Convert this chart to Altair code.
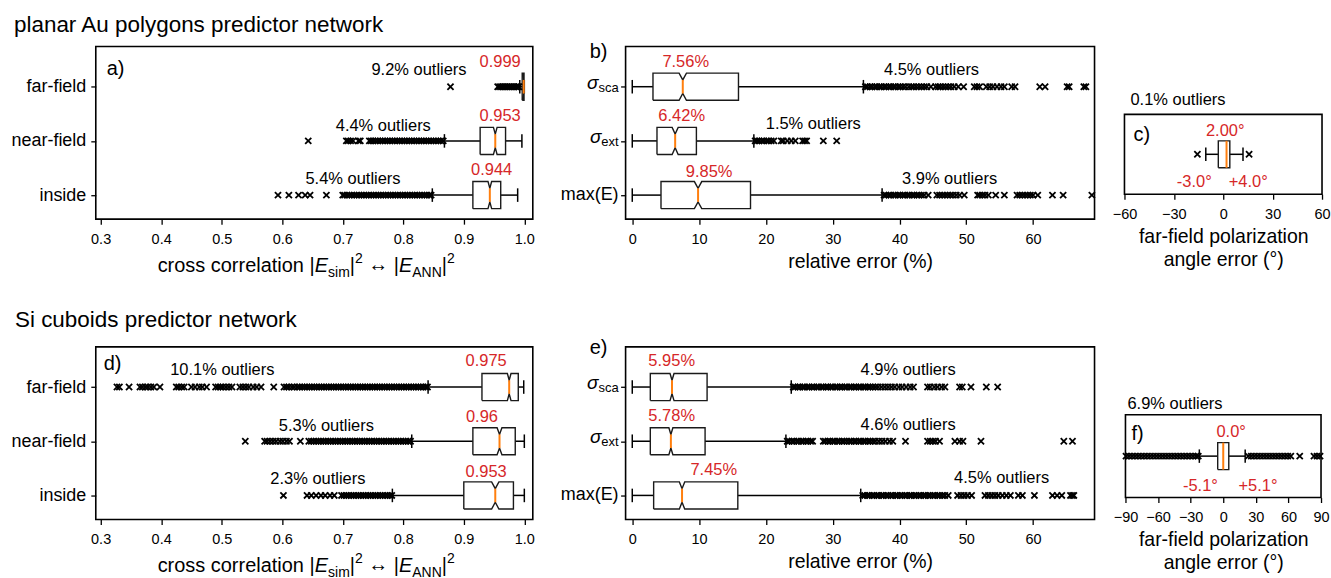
import altair as alt
import pandas as pd

FONT = "Liberation Sans"
RED = "#d62728"
ORANGE = "#ff7f0e"
XSHAPE = "M-1,-1L1,1M-1,1L1,-1"

# ================= panel a : planar Au polygons, cross correlation =================
a_names = ["far-field", "near-field", "inside"]
a_q1 = [0.9965, 0.927, 0.915]
a_med = [0.999, 0.952, 0.943]
a_q3 = [0.9995, 0.969, 0.961]
a_lo = [0.9925, 0.868, 0.848]
a_hi = [1.0, 0.996, 0.989]
a_notch = [0.0003, 0.003, 0.003]
a_out_far = [0.878, 0.956, 0.959, 0.962, 0.965, 0.968, 0.971, 0.974, 0.977, 0.980, 0.983, 0.986, 0.989, 0.991]
a_out_near = [0.643, 0.706, 0.709, 0.713, 0.717, 0.726, 0.729, 0.744, 0.747, 0.750, 0.754, 0.758, 0.762,
              0.766, 0.770, 0.774, 0.778, 0.782, 0.786, 0.790, 0.794, 0.798, 0.802, 0.806, 0.810, 0.814,
              0.818, 0.822, 0.826, 0.830, 0.834, 0.838, 0.842, 0.846, 0.850, 0.854, 0.858, 0.862, 0.866]
a_out_in = [0.593, 0.611, 0.627, 0.638, 0.646, 0.673, 0.700, 0.703, 0.707, 0.711, 0.715, 0.719, 0.723,
            0.727, 0.731, 0.735, 0.739, 0.743, 0.747, 0.751, 0.755, 0.759, 0.763, 0.767, 0.771, 0.775,
            0.779, 0.783, 0.787, 0.791, 0.795, 0.799, 0.803, 0.807, 0.811, 0.815, 0.819, 0.823, 0.827,
            0.831, 0.835, 0.839, 0.843, 0.846]
a_med_txt = ["0.999", "0.953", "0.944"]
a_med_tx = [0.960, 0.960, 0.946]
a_med_ty = [3.46, 2.46, 1.46]
a_out_txt = ["9.2% outliers", "4.4% outliers", "5.4% outliers"]
a_out_tx = [0.826, 0.767, 0.717]
a_out_ty = [3.30, 2.28, 1.29]

# ================= panel b : planar Au polygons, relative error =================
b_names = ["sca", "ext", "max(E)"]
b_q1 = [3.1, 3.7, 4.3]
b_med = [7.56, 6.42, 9.85]
b_q3 = [15.9, 9.6, 17.7]
b_lo = [0.0, 0.0, 0.0]
b_hi = [34.6, 18.2, 37.4]
b_notch = [0.55, 0.45, 0.55]
b_out_sca = [34.9, 35.2, 35.6, 35.9, 36.3, 36.6, 37.0, 37.3, 37.7, 38.0, 38.4, 38.7, 39.1, 39.4, 39.8,
             40.1, 40.5, 40.9, 41.4, 41.8, 42.1, 42.5, 42.9, 43.3, 43.7, 44.1, 44.7, 45.4, 45.8, 46.1,
             46.5, 46.9, 47.3, 47.7, 48.2, 48.8, 49.6, 51.2, 51.6, 52.0, 53.0, 53.5, 54.0, 54.6, 55.2,
             55.7, 56.8, 57.3, 61.0, 61.8, 65.1, 65.4, 67.6, 67.9]
b_out_ext = [18.4, 18.7, 19.0, 19.4, 19.7, 20.1, 20.4, 20.8, 21.2, 22.3, 22.6, 23.2, 23.8, 24.4, 25.5,
             25.8, 26.1, 28.6, 30.6]
b_out_max = [37.7, 38.0, 38.4, 38.7, 39.1, 39.4, 39.8, 40.1, 40.5, 40.8, 41.2, 41.5, 41.9, 42.2, 42.6,
             42.9, 43.3, 43.7, 44.3, 45.6, 46.0, 46.4, 46.8, 47.2, 47.6, 48.0, 48.5, 49.0, 49.7, 51.7,
             52.0, 52.4, 52.8, 53.3, 54.4, 55.7, 57.6, 58.0, 58.4, 58.8, 59.2, 59.6, 60.0, 60.7, 62.9,
             64.5, 68.8]
b_med_txt = ["7.56%", "6.42%", "9.85%"]
b_med_tx = [8.0, 7.4, 11.5]
b_med_ty = [3.46, 2.46, 1.42]
b_out_txt = ["4.5% outliers", "1.5% outliers", "3.9% outliers"]
b_out_tx = [44.8, 27.1, 47.5]
b_out_ty = [3.31, 2.31, 1.29]

# ================= panel c : planar Au polygons, polarization angle =================
c_q1 = [-3.0]
c_med = [2.0]
c_q3 = [4.0]
c_lo = [-10.6]
c_hi = [12.0]
c_out = [-15.7, 15.7]
c_txt = ["2.00°", "-3.0°", "+4.0°"]
c_tx = [1.2, -17.6, 15.2]
c_ty = [1.43, 0.48, 0.48]

# ================= panel d : Si cuboids, cross correlation =================
d_names = ["far-field", "near-field", "inside"]
d_q1 = [0.930, 0.915, 0.900]
d_med = [0.975, 0.959, 0.952]
d_q3 = [0.990, 0.985, 0.982]
d_lo = [0.841, 0.814, 0.782]
d_hi = [0.999, 1.0, 1.0]
d_notch = [0.003, 0.004, 0.006]
d_out_far = [0.327, 0.331, 0.347, 0.365, 0.369, 0.374, 0.378, 0.383, 0.388, 0.398, 0.425, 0.429, 0.434,
             0.438, 0.450, 0.456, 0.463, 0.468, 0.475, 0.490, 0.494, 0.498, 0.502, 0.507, 0.512, 0.517,
             0.530, 0.535, 0.540, 0.545, 0.552, 0.558, 0.565, 0.586, 0.603, 0.607, 0.611, 0.616, 0.620,
             0.625, 0.629, 0.633, 0.637, 0.641, 0.645, 0.649, 0.653, 0.657, 0.661, 0.665, 0.669, 0.673,
             0.677, 0.681, 0.685, 0.689, 0.693, 0.697, 0.701, 0.705, 0.709, 0.713, 0.717, 0.721, 0.725,
             0.729, 0.733, 0.737, 0.741, 0.745, 0.749, 0.753, 0.757, 0.761, 0.765, 0.769, 0.773, 0.777,
             0.781, 0.785, 0.789, 0.793, 0.797, 0.801, 0.805, 0.809, 0.813, 0.817, 0.821, 0.825, 0.829,
             0.833, 0.837, 0.840]
d_out_near = [0.539, 0.571, 0.575, 0.580, 0.585, 0.590, 0.596, 0.601, 0.607, 0.612, 0.630, 0.644, 0.648,
              0.652, 0.656, 0.660, 0.664, 0.668, 0.672, 0.676, 0.680, 0.684, 0.688, 0.692, 0.696, 0.700,
              0.704, 0.708, 0.712, 0.716, 0.720, 0.724, 0.728, 0.732, 0.736, 0.740, 0.744, 0.748, 0.752,
              0.756, 0.760, 0.764, 0.768, 0.772, 0.776, 0.780, 0.784, 0.788, 0.792, 0.796, 0.800, 0.804,
              0.808, 0.812]
d_out_in = [0.602, 0.641, 0.648, 0.656, 0.664, 0.671, 0.679, 0.686, 0.698, 0.702, 0.706, 0.710, 0.714,
            0.718, 0.722, 0.726, 0.730, 0.734, 0.738, 0.742, 0.746, 0.750, 0.754, 0.758, 0.762, 0.766,
            0.770, 0.774, 0.778, 0.781]
d_med_txt = ["0.975", "0.96", "0.953"]
d_med_tx = [0.937, 0.930, 0.937]
d_med_ty = [3.48, 2.44, 1.43]
d_out_txt = ["10.1% outliers", "5.3% outliers", "2.3% outliers"]
d_out_tx = [0.501, 0.673, 0.659]
d_out_ty = [3.31, 2.28, 1.30]

# ================= panel e : Si cuboids, relative error =================
e_names = ["sca", "ext", "max(E)"]
e_q1 = [2.7, 2.7, 3.2]
e_med = [5.95, 5.78, 7.45]
e_q3 = [11.2, 10.9, 15.8]
e_lo = [0.0, 0.0, 0.0]
e_hi = [23.8, 23.0, 34.2]
e_notch = [0.3, 0.3, 0.4]
e_out_sca = [24.1, 24.4, 24.8, 25.1, 25.5, 25.8, 26.2, 26.5, 26.9, 27.2, 27.6, 27.9, 28.3, 28.6, 29.0,
             29.3, 29.7, 30.0, 30.4, 30.7, 31.1, 31.4, 31.8, 32.1, 32.5, 32.8, 33.2, 33.5, 33.9, 34.2,
             34.6, 34.9, 35.3, 35.6, 36.0, 36.4, 36.8, 37.3, 37.8, 38.3, 38.8, 39.3, 39.9, 40.4, 41.0,
             41.6, 42.1, 44.2, 44.6, 45.2, 45.7, 46.3, 46.8, 49.0, 49.4, 50.7, 53.0, 54.7]
e_out_ext = [23.2, 23.5, 23.9, 24.2, 24.6, 24.9, 25.3, 25.6, 26.0, 26.3, 26.7, 27.0, 28.6, 28.9, 29.3,
             29.6, 30.0, 30.3, 30.7, 31.0, 31.4, 31.7, 32.1, 32.5, 32.8, 33.2, 33.5, 33.9, 34.2, 34.6,
             34.9, 35.3, 35.6, 36.0, 36.4, 36.9, 37.4, 37.9, 38.5, 39.0, 40.9, 44.2, 44.6, 45.0, 45.4,
             46.0, 48.3, 49.0, 49.5, 52.2, 64.6, 65.9]
e_out_max = [34.5, 34.8, 35.2, 35.5, 35.9, 36.2, 36.6, 36.9, 37.3, 37.6, 38.0, 38.3, 38.7, 39.0, 39.4,
             39.7, 40.1, 40.4, 40.8, 41.1, 41.5, 41.8, 42.2, 42.5, 42.9, 43.2, 43.6, 43.9, 44.3, 44.6,
             45.0, 45.3, 45.7, 46.0, 46.4, 46.8, 47.3, 48.7, 49.2, 49.7, 50.2, 50.8, 52.8, 53.3, 53.8,
             54.3, 54.8, 55.4, 56.0, 56.6, 57.8, 58.4, 60.2, 62.9, 63.6, 64.3, 65.6, 65.9, 66.1]
e_med_txt = ["5.95%", "5.78%", "7.45%"]
e_med_tx = [5.9, 5.9, 12.2]
e_med_ty = [3.48, 2.46, 1.46]
e_out_txt = ["4.9% outliers", "4.6% outliers", "4.5% outliers"]
e_out_tx = [41.3, 41.3, 55.3]
e_out_ty = [3.31, 2.29, 1.33]

# ================= panel f : Si cuboids, polarization angle =================
f_q1 = [-5.1]
f_med = [0.0]
f_q3 = [5.1]
f_lo = [-22.0]
f_hi = [20.2]
f_out = [-89.5, -86.7, -83.9, -81.1, -78.3, -75.5, -72.7, -69.9, -67.1, -64.3, -61.5, -58.7, -55.9,
         -53.1, -50.3, -47.5, -44.7, -41.9, -39.1, -36.3, -33.5, -30.7, -27.9, -25.1, -23.0,
         23.0, 25.8, 28.6, 31.4, 34.2, 37.0, 39.8, 42.6, 45.4, 48.2, 51.0, 53.8, 56.6, 59.4, 62.2,
         70.4, 83.5, 86.3, 89.1]
f_txt = ["0.0°", "-5.1°", "+5.1°"]
f_tx = [7.3, -21.0, 32.0]
f_ty = [1.44, 0.44, 0.44]

# Liberation Sans (Arial-metric) advance widths, used to set the math-title pieces side by side
WID = {' ': .278, 'a': .556, 'c': .5, 'e': .556, 'i': .222, 'l': .222, 'm': .833, 'n': .556, 'o': .556,
       'r': .333, 's': .5, 't': .278, 'x': .5, 'A': .667, 'E': .667, 'N': .722, '|': .26, '↔': 1.0,
       '2': .556}

ONE = pd.DataFrame({"z": [0]})


def ptext(txt, px, py, size, color="black", align="left", baseline="middle", style="normal"):
    return alt.Chart(ONE).mark_text(font=FONT, fontSize=size, color=color, align=align,
                                    baseline=baseline, fontStyle=style).encode(
        x=alt.value(px), y=alt.value(py), text=alt.value(txt))


def panel(names, q1, med, q3, lo, hi, notch, outs, xdom, ydom, xvals, xfmt, W, H, xtitle,
          ymode, notched, ann_red, ann_blk, extra):
    xs = alt.Scale(domain=xdom, nice=False, zero=False)
    ys = alt.Scale(domain=ydom, nice=False, zero=False)
    n = len(q1)
    pos = [n - i for i in range(n)]
    xaxis = alt.Axis(values=xvals, format=xfmt, labelFlush=False, labelOverlap=False,
                     labelFontSize=14.5, labelPadding=8, tickSize=5, titleFontSize=19.5,
                     titlePadding=7, titleLineHeight=23, title=xtitle, grid=False)
    if ymode == "names":
        expr = " : ".join([f"datum.value == {p} ? '{nm}'" for p, nm in zip(pos, names)]) + " : ''"
        yaxis = alt.Axis(values=pos, labelExpr=expr, labelFontSize=18, labelPadding=5,
                         tickSize=5, title=None, grid=False)
    elif ymode == "ticks":
        yaxis = alt.Axis(values=pos, labels=False, tickSize=5, title=None, grid=False)
    else:
        yaxis = None

    def X(f):
        return alt.X(f"{f}:Q", scale=xs, axis=xaxis)

    def Y(f):
        return alt.Y(f"{f}:Q", scale=ys, axis=yaxis)

    w, c = 0.25, 0.125
    outline, stats, pts = [], [], []
    for i, r in enumerate(pos):
        if notched:
            nl, nh = med[i] - notch[i], med[i] + notch[i]
            bx = [q1[i], nl, med[i], nh, q3[i], q3[i], nh, med[i], nl, q1[i], q1[i]]
            by = [r - w, r - w, r - c, r - w, r - w, r + w, r + w, r + c, r + w, r + w, r - w]
            mh = c
        else:
            bx = [q1[i], q3[i], q3[i], q1[i], q1[i]]
            by = [r - w, r - w, r + w, r + w, r - w]
            mh = w
        for k, (xv, yv) in enumerate(zip(bx, by)):
            outline.append({"b": i, "k": k, "v": xv, "r": yv})
        stats.append({"r": r, "lo": lo[i], "q1": q1[i], "med": med[i], "q3": q3[i], "hi": hi[i],
                      "clo": r - c, "chi": r + c, "mlo": r - mh, "mhi": r + mh})
        for v in outs[i]:
            pts.append({"v": v, "r": r})
    outline = pd.DataFrame(outline)
    stats = pd.DataFrame(stats)
    pts = pd.DataFrame(pts)

    lw = 1.5
    layers = [
        alt.Chart(stats).mark_rule(color="black", strokeWidth=lw).encode(x=X("lo"), x2="q1", y=Y("r")),
        alt.Chart(stats).mark_rule(color="black", strokeWidth=lw).encode(x=X("q3"), x2="hi", y=Y("r")),
        alt.Chart(stats).mark_rule(color="black", strokeWidth=lw).encode(x=X("lo"), y=Y("clo"), y2="chi"),
        alt.Chart(stats).mark_rule(color="black", strokeWidth=lw).encode(x=X("hi"), y=Y("clo"), y2="chi"),
        alt.Chart(outline).mark_line(color="#1a1a1a", strokeWidth=1.4).encode(
            x=X("v"), y=Y("r"), detail="b:N", order="k:Q"),
        alt.Chart(stats).mark_rule(color=ORANGE, strokeWidth=2).encode(x=X("med"), y=Y("mlo"), y2="mhi"),
        alt.Chart(pts).mark_point(shape=XSHAPE, filled=False, size=38, color="black",
                                  strokeWidth=1.8, opacity=1).encode(x=X("v"), y=Y("r")),
    ]
    for (txts, tx, ty), col in ((ann_red, RED), (ann_blk, "black")):
        if txts:
            df = pd.DataFrame({"t": txts, "x": tx, "y": ty})
            layers.append(alt.Chart(df).mark_text(font=FONT, fontSize=16.5, color=col,
                                                  align="center", baseline="middle").encode(
                x=X("x"), y=Y("y"), text="t:N"))
    if ymode == "ticks":
        for i, r in enumerate(pos):
            df = pd.DataFrame({"r": [r]})
            nm = names[i]
            if nm in ("sca", "ext"):
                wsub = sum(WID.get(ch, .5) for ch in nm) * 13
                layers.append(alt.Chart(df).mark_text(font=FONT, fontSize=13, align="right",
                                                      baseline="middle", dy=1).encode(
                    x=alt.value(-7), y=Y("r"), text=alt.value(nm)))
                layers.append(alt.Chart(df).mark_text(font=FONT, fontSize=19, align="right",
                                                      baseline="middle", dy=-4,
                                                      fontStyle="italic").encode(
                    x=alt.value(-7 - wsub), y=Y("r"), text=alt.value("σ")))
            else:
                layers.append(alt.Chart(df).mark_text(font=FONT, fontSize=18, align="right",
                                                      baseline="middle").encode(
                    x=alt.value(-7), y=Y("r"), text=alt.value(nm)))
    layers.extend(extra)
    return alt.layer(*layers).properties(width=W, height=H)


def cc_title(H):
    # pieces: (text, font size, baseline shift, style); SVG drops edge spaces, so gaps are added by hand
    FS, SS = 20, 14
    segs = [("cross correlation", FS, 0, "normal"), (" ", FS, 0, None), ("|", FS, 0, "normal"),
            ("E", FS, 0, "italic"), ("sim", SS, 5, "normal"), ("|", FS, 0, "normal"),
            ("2", SS, -9, "normal"), (" ", FS, 0, None), ("↔", FS, -1, "normal"), (" ", FS, 0, None),
            ("|", FS, 0, "normal"), ("E", FS, 0, "italic"), ("ANN", SS, 5, "normal"),
            ("|", FS, 0, "normal"), ("2", SS, -9, "normal")]
    x = 62.0
    out = []
    for t, fs, dy, st in segs:
        if st is not None:
            out.append(ptext(t, x, H + 53 + dy, fs, baseline="alphabetic", style=st))
        x += sum(WID.get(ch, .5) for ch in t) * fs
    return out


def spacer(W, H):
    return alt.Chart(ONE).mark_point(opacity=0).encode(x=alt.value(0), y=alt.value(0)).properties(
        width=W, height=H, view=alt.ViewBackground(stroke="transparent"))


YD3 = [0.556, 3.741]
cc_ticks = [0.3, 0.4, 0.5, 0.6, 0.7, 0.8, 0.9, 1.0]
re_ticks = [0, 10, 20, 30, 40, 50, 60]

anchor = alt.Chart(ONE).mark_rule(strokeOpacity=0, strokeWidth=0.1).encode(
    x=alt.value(-95), x2=alt.value(-94), y=alt.value(-45), y2=alt.value(-44))

pa = panel(a_names, a_q1, a_med, a_q3, a_lo, a_hi, a_notch, [a_out_far, a_out_near, a_out_in],
           [0.292, 1.014], YD3, cc_ticks, ".1f", 438, 173, None, "names", True,
           (a_med_txt, a_med_tx, a_med_ty), (a_out_txt, a_out_tx, a_out_ty),
           [anchor, ptext("planar Au polygons predictor network", -82, -22, 22.5),
            ptext("a)", 11, 23, 20)] + cc_title(173))

pb = panel(b_names, b_q1, b_med, b_q3, b_lo, b_hi, b_notch, [b_out_sca, b_out_ext, b_out_max],
           [-1.0, 69.2], YD3, re_ticks, "d", 470, 173, "relative error (%)", "ticks", True,
           (b_med_txt, b_med_tx, b_med_ty), (b_out_txt, b_out_tx, b_out_ty),
           [ptext("b)", -36, 5, 20)])

pc = panel(["c"], c_q1, c_med, c_q3, c_lo, c_hi, [0], [c_out],
           [-60, 60], [0.26, 1.74], [-60, -30, 0, 30, 60], "d", 198, 80,
           ["far-field polarization", "angle error (°)"], "none", False,
           (c_txt, c_tx, c_ty), ([], [], []),
           [ptext("0.1% outliers", 6, -14, 16.5), ptext("c)", 9, 21, 20)])

pd_ = panel(d_names, d_q1, d_med, d_q3, d_lo, d_hi, d_notch, [d_out_far, d_out_near, d_out_in],
            [0.292, 1.014], YD3, cc_ticks, ".1f", 438, 173, None, "names", True,
            (d_med_txt, d_med_tx, d_med_ty), (d_out_txt, d_out_tx, d_out_ty),
            [ptext("Si cuboids predictor network", -81, -27, 22.5), ptext("d)", 8, 17, 20)]
            + cc_title(173))

pe = panel(e_names, e_q1, e_med, e_q3, e_lo, e_hi, e_notch, [e_out_sca, e_out_ext, e_out_max],
           [-1.0, 69.2], YD3, re_ticks, "d", 470, 173, "relative error (%)", "ticks", True,
           (e_med_txt, e_med_tx, e_med_ty), (e_out_txt, e_out_tx, e_out_ty),
           [ptext("e)", -36, 1, 20)])

pf = panel(["f"], f_q1, f_med, f_q3, f_lo, f_hi, [0], [f_out],
           [-90, 90], [0.2315, 1.7685], [-90, -60, -30, 0, 30, 60, 90], "d", 196, 83,
           ["far-field polarization", "angle error (°)"], "none", False,
           (f_txt, f_tx, f_ty), ([], [], []),
           [ptext("6.9% outliers", 2, -11, 16.5), ptext("f)", 6, 19, 20)])

row1 = alt.hconcat(pa, spacer(93, 10), pb, spacer(30, 10),
                   alt.vconcat(spacer(198, 68), pc, spacing=0, bounds="flush"),
                   spacing=0, bounds="flush")
row2 = alt.hconcat(pd_, spacer(93, 10), pe, spacer(31, 10),
                   alt.vconcat(spacer(196, 68), pf, spacing=0, bounds="flush"),
                   spacing=0, bounds="flush")

# a nested concat counts as zero height in a flush layout, so the gap covers row 1's height too
chart = alt.vconcat(row1, row2, spacing=301, bounds="flush").properties(
    padding={"left": 0, "top": 0, "right": 0, "bottom": 0}
).configure(font=FONT).configure_view(stroke="black", strokeWidth=1.6).configure_axis(
    domain=False, grid=False, tickColor="black", tickWidth=1.3, labelColor="black",
    titleColor="black", labelFont=FONT, titleFont=FONT, titleFontWeight="normal"
)

chart.save("out.html", embed_options={"renderer": "svg", "actions": False})
